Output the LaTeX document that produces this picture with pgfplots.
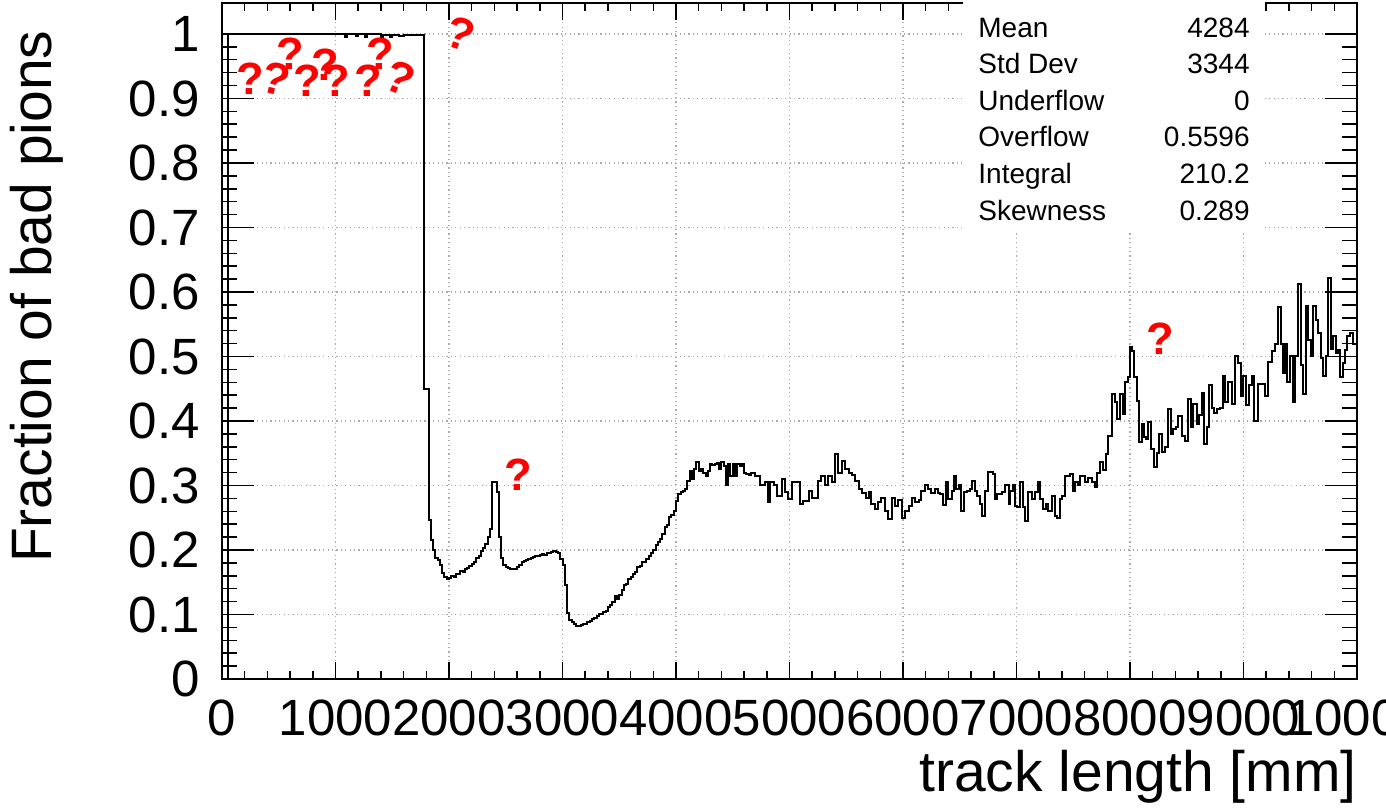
\documentclass[border=0pt]{standalone}
\usepackage{pgfplots}
\pgfplotsset{compat=1.18}
\usepackage{fontspec}
\setmainfont{Liberation Sans}
\begin{document}
\begin{tikzpicture}
\begin{axis}[
  scale only axis,
  width=567.5pt, height=338pt,
  xmin=0, xmax=10000, ymin=0, ymax=1.048,
  xtick={0,1000,...,10000},
  ytick={0,0.1,0.2,0.3,0.4,0.5,0.6,0.7,0.8,0.9,1},
  minor x tick num=4, minor y tick num=4,
  tick align=inside, tick pos=both,
  scaled x ticks=false, scaled y ticks=false,
  /pgf/number format/assume math mode=true,
  /pgf/number format/1000 sep={},
  ticklabel style={font=\fontsize{25.5}{26}\selectfont, inner sep=0pt},
  yticklabel style={xshift=-11pt},
  xticklabel style={yshift=-10.5pt},
  x tick style={line width=0.75pt, black, /pgfplots/major tick length=8.5pt, /pgfplots/minor tick length=4pt},
  y tick style={line width=0.75pt, black, /pgfplots/major tick length=16pt, /pgfplots/minor tick length=7.5pt},
  axis line style={line width=0.8pt},
  grid=major,
  major grid style={gray!65, line width=0.6pt, dash pattern=on 0.6pt off 1.6pt},
  xlabel={track length [mm]},
  xlabel style={at={(rel axis cs:1,0)}, anchor=north east, inner sep=0pt, yshift=-35.6pt, font=\fontsize{28.5}{30}\selectfont},
  ylabel={Fraction of bad pions},
  ylabel style={at={(axis description cs:-0.1868,0.9598)}, anchor=north east, inner sep=0pt, rotate=0, font=\fontsize{28.5}{30}\selectfont},
]
\addplot[const plot, black, line width=1pt] table {
x y
0 0
50 1
1080 0.996
1100 1
1180 0.997
1200 1
1260 0.995
1280 1
1400 0.994
1420 0.998
1480 0.996
1500 0.999
1560 0.997
1600 0.998
1780 0.45
1820 0.247
1840 0.216
1860 0.2
1880 0.187
1900 0.185
1920 0.177
1940 0.165
1960 0.158
1980 0.155
2000 0.157
2020 0.16
2040 0.158
2060 0.162
2080 0.163
2100 0.167
2120 0.166
2140 0.171
2160 0.172
2180 0.175
2200 0.178
2220 0.181
2240 0.187
2260 0.19
2280 0.199
2300 0.203
2320 0.209
2340 0.22
2360 0.232
2380 0.305
2400 0.305
2420 0.29
2440 0.22
2460 0.187
2480 0.177
2500 0.174
2520 0.172
2540 0.171
2560 0.17
2580 0.171
2600 0.174
2620 0.176
2640 0.181
2660 0.183
2680 0.184
2700 0.186
2720 0.187
2740 0.189
2760 0.191
2780 0.19
2800 0.192
2820 0.193
2840 0.192
2860 0.195
2880 0.195
2900 0.197
2920 0.199
2940 0.197
2960 0.196
2980 0.186
3000 0.176
3020 0.146
3040 0.103
3060 0.092
3080 0.088
3100 0.085
3120 0.082
3140 0.082
3160 0.084
3180 0.085
3200 0.086
3220 0.088
3240 0.09
3260 0.093
3280 0.095
3300 0.098
3320 0.1
3340 0.101
3360 0.104
3380 0.106
3400 0.111
3420 0.114
3440 0.119
3460 0.129
3480 0.124
3500 0.13
3520 0.138
3540 0.145
3560 0.148
3580 0.155
3600 0.158
3620 0.163
3640 0.166
3660 0.173
3680 0.175
3700 0.181
3720 0.182
3740 0.186
3760 0.19
3780 0.196
3800 0.2
3820 0.207
3840 0.212
3860 0.217
3880 0.225
3900 0.235
3920 0.239
3940 0.251
3960 0.255
3980 0.261
4000 0.276
4020 0.287
4040 0.29
4060 0.292
4080 0.295
4100 0.307
4120 0.323
4140 0.31
4160 0.326
4180 0.336
4200 0.323
4220 0.325
4240 0.32
4260 0.315
4280 0.322
4300 0.333
4320 0.331
4340 0.333
4360 0.335
4380 0.326
4400 0.336
4420 0.33
4440 0.3
4460 0.333
4480 0.315
4500 0.334
4520 0.315
4540 0.333
4560 0.33
4580 0.333
4600 0.32
4620 0.318
4640 0.316
4660 0.32
4700 0.315
4740 0.3
4780 0.305
4810 0.274
4830 0.305
4860 0.3
4890 0.284
4930 0.31
4960 0.29
4990 0.279
5020 0.305
5090 0.271
5120 0.276
5170 0.292
5200 0.281
5250 0.307
5280 0.315
5310 0.3
5340 0.315
5370 0.305
5400 0.349
5430 0.32
5460 0.338
5490 0.326
5520 0.32
5550 0.316
5580 0.307
5610 0.295
5640 0.288
5670 0.281
5700 0.29
5720 0.271
5750 0.264
5780 0.274
5810 0.281
5840 0.261
5870 0.248
5900 0.281
5930 0.268
5960 0.278
5990 0.25
6020 0.261
6050 0.268
6080 0.281
6110 0.274
6140 0.278
6160 0.292
6190 0.3
6220 0.295
6250 0.288
6280 0.295
6310 0.288
6330 0.287
6355 0.269
6380 0.305
6400 0.279
6430 0.292
6445 0.315
6465 0.295
6490 0.3
6515 0.261
6540 0.29
6560 0.292
6590 0.295
6610 0.307
6630 0.292
6650 0.284
6675 0.271
6695 0.253
6720 0.292
6750 0.321
6790 0.318
6810 0.279
6825 0.287
6870 0.29
6900 0.3
6930 0.271
6945 0.292
6965 0.3
6985 0.268
7000 0.266
7030 0.305
7055 0.266
7075 0.245
7105 0.29
7135 0.279
7165 0.29
7185 0.305
7205 0.279
7235 0.264
7260 0.271
7280 0.261
7310 0.284
7340 0.253
7360 0.25
7385 0.279
7405 0.284
7425 0.315
7470 0.318
7495 0.292
7515 0.305
7545 0.3
7560 0.315
7604 0.305
7633 0.312
7663 0.305
7692 0.297
7712 0.32
7736 0.336
7759 0.324
7789 0.349
7809 0.377
7838 0.442
7868 0.429
7888 0.403
7912 0.442
7935 0.411
7956 0.46
7980 0.468
8000 0.514
8021 0.509
8038 0.468
8059 0.431
8082 0.367
8103 0.395
8123 0.375
8141 0.372
8162 0.398
8182 0.357
8211 0.328
8235 0.351
8258 0.38
8279 0.352
8310 0.36
8338 0.419
8358 0.38
8382 0.388
8406 0.39
8426 0.408
8455 0.377
8485 0.369
8508 0.434
8535 0.39
8558 0.427
8588 0.395
8611 0.41
8632 0.444
8652 0.364
8676 0.39
8699 0.455
8720 0.42
8740 0.413
8764 0.419
8793 0.42
8817 0.47
8837 0.429
8867 0.46
8896 0.427
8925 0.501
8955 0.49
8978 0.439
8999 0.469
9022 0.424
9052 0.455
9072 0.47
9096 0.4
9125 0.457
9190 0.439
9219 0.491
9248 0.509
9278 0.519
9307 0.576
9330 0.52
9345 0.475
9366 0.52
9386 0.46
9410 0.5
9439 0.429
9454 0.5
9483 0.612
9504 0.486
9528 0.442
9551 0.579
9571 0.526
9595 0.5
9615 0.579
9639 0.556
9660 0.537
9683 0.497
9704 0.47
9727 0.501
9748 0.621
9768 0.512
9792 0.532
9816 0.506
9836 0.51
9851 0.468
9874 0.49
9895 0.51
9915 0.532
9939 0.537
9962 0.52
9983 0.52
10000 0.52
};
\tikzset{qm/.style={text=red, font=\fontsize{22.6}{23}\selectfont\bfseries, inner sep=0pt}}
\node[qm] at (axis cs:247,0.931) {?};
\node[qm, rotate=-15] at (axis cs:476,0.931) {?};
\node[qm] at (axis cs:599,0.970) {?};
\node[qm] at (axis cs:749,0.928) {?};
\node[qm] at (axis cs:907,0.953) {?};
\node[qm] at (axis cs:1004,0.928) {?};
\node[qm] at (axis cs:1286,0.928) {?};
\node[qm] at (axis cs:1392,0.970) {?};
\node[qm, rotate=-22] at (axis cs:1568,0.931) {?};
\node[qm, rotate=-18] at (axis cs:2097,1.001) {?};
\node[qm] at (axis cs:2608,0.316) {?};
\node[qm] at (axis cs:8264,0.528) {?};
\end{axis}
% statistics box (cut off at the top, as in the reference)
\fill[white] ([shift={(370.5pt,223.4pt)}]current axis.south west) rectangle ([shift={(521.5pt,360pt)}]current axis.south west);
\begin{scope}[every node/.style={inner sep=0pt, font=\fontsize{14}{15}\selectfont}]
\node[anchor=base west] at ([shift={(378pt,320.9pt)}]current axis.south west) {Mean};
\node[anchor=base east] at ([shift={(514pt,320.9pt)}]current axis.south west) {4284};
\node[anchor=base west] at ([shift={(378pt,302.6pt)}]current axis.south west) {Std Dev};
\node[anchor=base east] at ([shift={(514pt,302.6pt)}]current axis.south west) {3344};
\node[anchor=base west] at ([shift={(378pt,284.3pt)}]current axis.south west) {Underflow};
\node[anchor=base east] at ([shift={(514pt,284.3pt)}]current axis.south west) {0};
\node[anchor=base west] at ([shift={(378pt,266pt)}]current axis.south west) {Overflow};
\node[anchor=base east] at ([shift={(514pt,266pt)}]current axis.south west) {0.5596};
\node[anchor=base west] at ([shift={(378pt,247.7pt)}]current axis.south west) {Integral};
\node[anchor=base east] at ([shift={(514pt,247.7pt)}]current axis.south west) {210.2};
\node[anchor=base west] at ([shift={(378pt,229.4pt)}]current axis.south west) {Skewness};
\node[anchor=base east] at ([shift={(514pt,229.4pt)}]current axis.south west) {0.289};
\end{scope}
\pgfresetboundingbox
\path[use as bounding box] ([shift={(-111pt,-65.6pt)}]current axis.south west) rectangle ([shift={(14.5pt,1.5pt)}]current axis.north east);
\end{tikzpicture}
\end{document}
